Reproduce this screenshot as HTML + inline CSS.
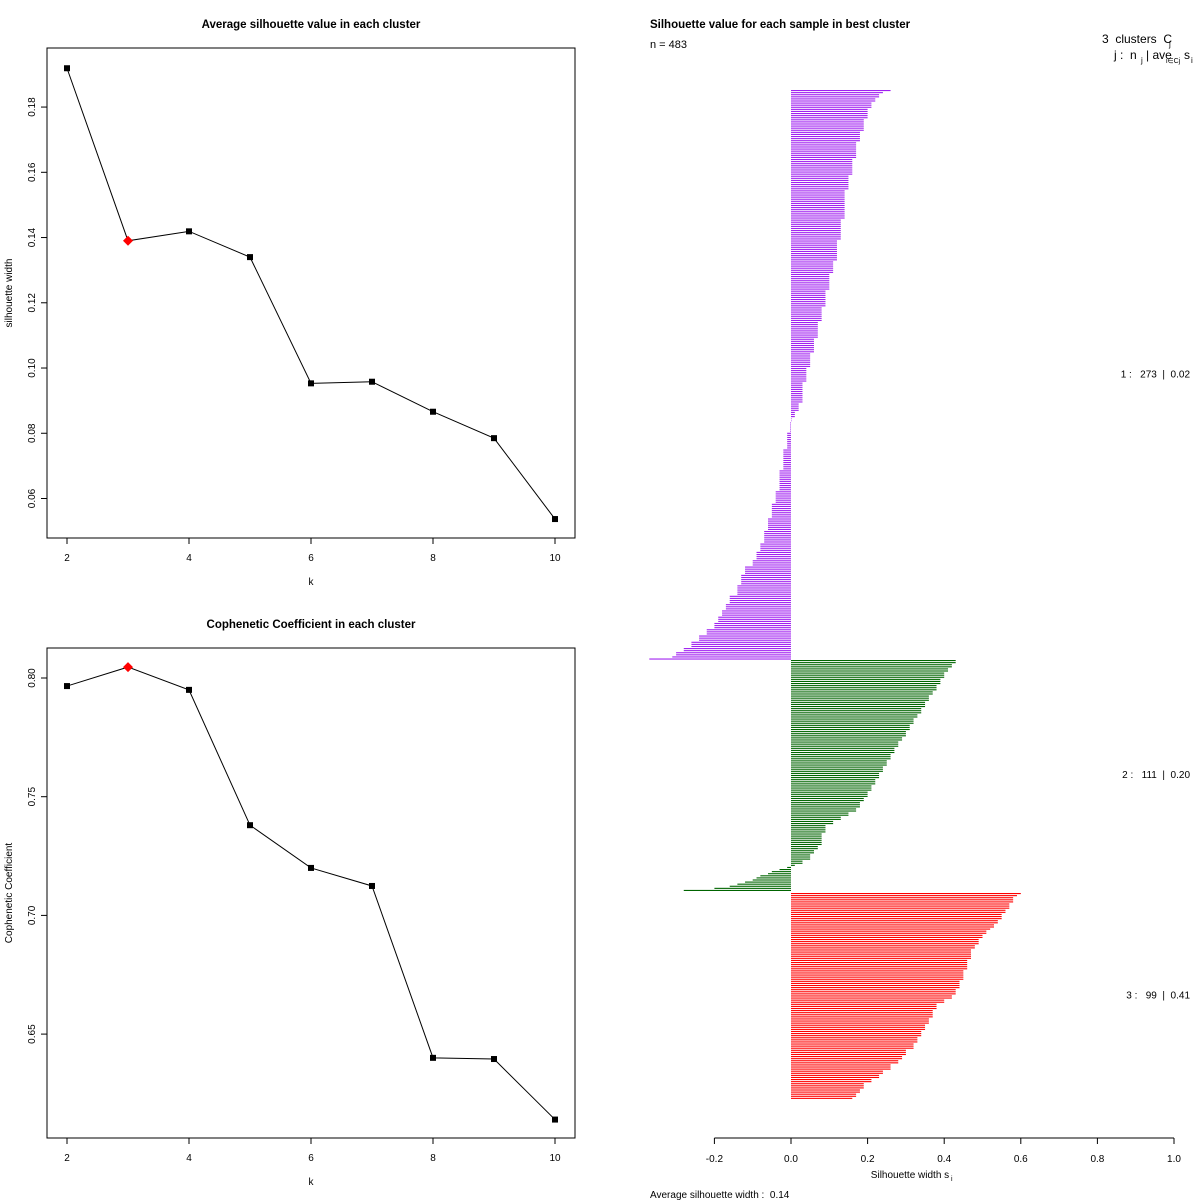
<!DOCTYPE html>
<html><head><meta charset="utf-8"><style>
body{margin:0;background:#fff;}
svg{display:block;font-family:"Liberation Sans",sans-serif;}
text{white-space:pre;}
</style></head><body>
<svg id="c" width="1200" height="1200" viewBox="0 0 1200 1200"></svg>
<script>
// ---- data ----
const kValues = [2,3,4,5,6,7,8,9,10];
const silWidth = [0.1919,0.139,0.1419,0.134,0.0953,0.0958,0.0866,0.0785,0.0537];
const silTicks = [0.06,0.08,0.10,0.12,0.14,0.16,0.18];
const cophCoef = [0.7966,0.8046,0.795,0.738,0.720,0.7124,0.640,0.6395,0.614];
const cophTicks = [0.65,0.70,0.75,0.80];
const kTicks = [2,4,6,8,10];
const bestK = 3;
const silXTicks = [-0.2,0,0.2,0.4,0.6,0.8,1.0];
const clusterNames = ["1","2","3"];
const clusterSizes = [273,111,99];
const clusterAvg = ["0.02","0.20","0.41"];
const clusterColors = ["#a020f0","#006400","#ff0000"];
// run-length encoded silhouette values (value, count) per cluster
const c1Vals = [0.26,0.24,0.23,0.22,0.21,0.20,0.19,0.18,0.17,0.16,0.15,0.14,0.13,0.12,0.11,0.10,0.09,0.08,0.07,0.06,0.05,0.04,0.03,0.02,0.01,0.00,-0.002,-0.01,-0.02,-0.03,-0.04,-0.05,-0.06,-0.07,-0.08,-0.09,-0.10,-0.12,-0.13,-0.14,-0.16,-0.17,-0.18,-0.19,-0.20,-0.22,-0.24,-0.26,-0.28,-0.30,-0.31,-0.37];
const c1Cnt  = [1,1,2,2,3,5,6,5,8,8,7,14,10,10,6,8,8,7,8,7,7,7,10,4,3,2,5,8,10,10,6,7,6,6,4,4,3,4,5,5,4,3,3,3,3,3,3,3,2,2,1,1];
const c2Vals = [0.43,0.42,0.41,0.40,0.39,0.38,0.37,0.36,0.35,0.34,0.33,0.32,0.31,0.30,0.29,0.28,0.27,0.26,0.25,0.24,0.23,0.22,0.21,0.20,0.19,0.18,0.17,0.15,0.13,0.11,0.09,0.08,0.07,0.06,0.05,0.03,0.01,-0.01,-0.03,-0.05,-0.06,-0.08,-0.09,-0.10,-0.12,-0.14,-0.16,-0.20,-0.28];
const c2Cnt  = [2,2,2,3,3,3,2,3,3,3,2,3,3,3,2,3,3,3,3,3,3,3,3,3,2,3,2,2,2,2,4,6,2,2,3,2,1,1,1,1,1,1,1,1,1,1,1,1,1];
const c3Vals = [0.60,0.59,0.58,0.57,0.56,0.55,0.54,0.53,0.52,0.51,0.50,0.49,0.48,0.47,0.46,0.45,0.44,0.43,0.42,0.40,0.38,0.37,0.36,0.35,0.34,0.33,0.32,0.30,0.29,0.28,0.26,0.24,0.23,0.21,0.19,0.18,0.17,0.16];
const c3Cnt  = [1,1,3,3,2,3,2,2,1,2,2,3,2,5,5,5,4,3,2,2,3,4,3,3,3,3,3,3,2,2,3,2,2,2,3,2,2,1];

const NS="http://www.w3.org/2000/svg";
const svg=document.getElementById('c');
function el(tag,attrs,parent){const e=document.createElementNS(NS,tag);for(const k in attrs)e.setAttribute(k,attrs[k]);(parent||svg).appendChild(e);return e;}
function txt(s,attrs,parent){const e=el('text',attrs,parent);e.textContent=s;return e;}

function linePanel(opts){
  const g=el('g',{});
  
  
  const {x0,x1,y0,y1}=opts.box;
  const xs=k=>opts.kx0+(k-2)*opts.kstep;
  const ys=v=>opts.vy0+(opts.v0-v)*opts.vscale;
  const fr=el('rect',{x:x0,y:y0,width:x1-x0,height:y1-y0,fill:'none',stroke:'#000','stroke-width':1},g);
  
  const t=txt(opts.title,{x:(x0+x1)/2,y:y0-20,'text-anchor':'middle','font-size':11.5,'font-weight':'bold'},g);
  
  const xa=el('line',{x1:xs(kTicks[0]),x2:xs(kTicks[kTicks.length-1]),y1:y1,y2:y1,stroke:'#000'},g);
  
  kTicks.forEach(k=>{el('line',{x1:xs(k),x2:xs(k),y1:y1,y2:y1+6,stroke:'#000'},g);
    const l=txt(k,{x:xs(k),y:y1+23,'text-anchor':'middle','font-size':10},g);
    });
  const xl=txt('k',{x:xs(6),y:y1+47,'text-anchor':'middle','font-size':10},g);
  
  const tk=opts.ticks;
  const ya=el('line',{x1:x0,x2:x0,y1:ys(tk[0]),y2:ys(tk[tk.length-1]),stroke:'#000'},g);
  
  tk.forEach(v=>{el('line',{x1:x0-6,x2:x0,y1:ys(v),y2:ys(v),stroke:'#000'},g);
    const l=txt(v.toFixed(2),{x:0,y:0,'text-anchor':'middle','font-size':10,transform:`translate(${x0-12},${ys(v)}) rotate(-90)`},g);
    });
  const yl=txt(opts.ylab,{x:0,y:0,'text-anchor':'middle','font-size':10,transform:`translate(12,${(y0+y1)/2}) rotate(-90)`},g);
  
  const pts=kValues.map((k,i)=>xs(k)+','+ys(opts.vals[i])).join(' ');
  const pl=el('polyline',{points:pts,fill:'none',stroke:'#000','stroke-width':1},g);
  
  kValues.forEach((k,i)=>{
    const cx=xs(k),cy=ys(opts.vals[i]);
    if(k===bestK){
      const d=el('polygon',{points:`${cx},${cy-5} ${cx+5},${cy} ${cx},${cy+5} ${cx-5},${cy}`,fill:'#ff0000'},g);
      
    } else {
      const p=el('rect',{x:cx-3,y:cy-3,width:6,height:6,fill:'#000'},g);
      
    }
  });
}
linePanel({name:'avg-silhouette-panel',title:'Average silhouette value in each cluster',box:{x0:47,x1:575,y0:48,y1:538},
  kx0:67,kstep:61,v0:0.06,vy0:498.5,vscale:3262,vals:silWidth,ticks:silTicks,ylab:'silhouette width'});
linePanel({name:'cophenetic-panel',title:'Cophenetic Coefficient in each cluster',box:{x0:47,x1:575,y0:648,y1:1138},
  kx0:67,kstep:61,v0:0.80,vy0:678,vscale:2374,vals:cophCoef,ticks:cophTicks,ylab:'Cophenetic Coefficient'});

// ---- silhouette plot ----
const sg=el('g',{});

const sx=v=>791+v*383;
const step=2.09;
const starts=[90,660,893];
const allVals=[[c1Vals,c1Cnt],[c2Vals,c2Cnt],[c3Vals,c3Cnt]];
allVals.forEach((pair,ci)=>{
  const [vals,cnt]=pair;let i=0;
  const cg=el('g',{},sg);
  
  vals.forEach((v,j)=>{for(let r=0;r<cnt[j];r++){
    const y=starts[ci]+i*step;const a=sx(0),b=sx(v);
    const bar=el('rect',{x:Math.min(a,b),y:y,width:Math.max(Math.abs(b-a),0.5),height:1.1,fill:clusterColors[ci]},cg);
    
    i++;}});
  const midY=starts[ci]+i*step/2;
  const lab=txt(clusterNames[ci]+' :   '+clusterSizes[ci]+'  |  '+clusterAvg[ci],{x:1190,y:midY+2,'text-anchor':'end','font-size':10},sg);
  
});
const t2=txt('Silhouette value for each sample in best cluster',{x:650,y:28,'font-size':11.5,'font-weight':'bold'},sg);

const nl=txt('n = 483',{x:650,y:48,'font-size':11},sg);

const h1=txt('3  clusters  C',{x:1102,y:43,'font-size':12},sg);

txt('j',{x:1169,y:47,'font-size':8},sg);
const h2=txt('j :  n',{x:1114,y:59,'font-size':12},sg);

txt('j',{x:1141,y:63,'font-size':8},sg);
txt('| ave',{x:1146,y:59,'font-size':12},sg);
txt('i∈Cj',{x:1166,y:63,'font-size':7},sg);
txt('s',{x:1184,y:59,'font-size':12},sg);
txt('i',{x:1191,y:63,'font-size':8},sg);
const ax=el('line',{x1:sx(silXTicks[0]),x2:sx(silXTicks[silXTicks.length-1]),y1:1138,y2:1138,stroke:'#000'},sg);

silXTicks.forEach(v=>{el('line',{x1:sx(v),x2:sx(v),y1:1138,y2:1144,stroke:'#000'},sg);
  const l=txt(v.toFixed(1),{x:sx(v),y:1162,'text-anchor':'middle','font-size':10},sg);
  });
const xt=txt('Silhouette width s',{x:910,y:1178,'text-anchor':'middle','font-size':10},sg);

txt('i',{x:951,y:1181,'font-size':7},sg);
const av=txt('Average silhouette width :  0.14',{x:650,y:1198,'font-size':10},sg);

</script>
</body></html>
